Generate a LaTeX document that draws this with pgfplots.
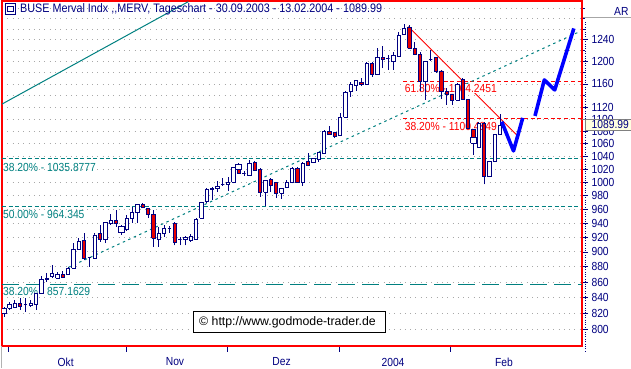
\documentclass[border=0pt]{standalone}
\usepackage{pgfplots}
\pgfplotsset{compat=1.18}
\usepackage{fontspec}
\setmainfont{Liberation Sans}[FakeStretch=0.88]
\newfontfamily\plainfont{Liberation Sans}
\definecolor{navy}{RGB}{0,0,128}
\definecolor{tealc}{RGB}{0,128,128}
\definecolor{framered}{RGB}{255,0,0}
\definecolor{candlered}{RGB}{230,0,0}
\definecolor{gridgray}{RGB}{168,168,168}
\definecolor{boxyellow}{RGB}{255,255,225}
\newcommand\lab{\fontsize{11.7}{13}\selectfont}
\newcommand\ttl{\fontsize{12.27}{14}\selectfont}
\newcommand\cpy{\plainfont\fontsize{12.3}{14}\selectfont}

\begin{document}
\begin{tikzpicture}[x=1pt,y=1pt]
\begin{axis}[
  at={(2pt,22pt)}, anchor=south west,
  width=580pt, height=345pt, scale only axis,
  xmin=-0.375, xmax=108.375,
  ymode=log, ymin=780.9, ymax=1315,
  axis line style={draw=framered, line width=1.6pt},
  xtick={0.9,23.0,41.9,62.8,83.7}, xticklabels={},
  xtick pos=lower, xticklabel pos=lower,
  extra x ticks={11.55,32.06,52.05,72.94,93.75},
  extra x tick labels={Okt,Nov,Dez,2004,Feb},
  extra x tick style={major tick length=0pt, grid=none, xticklabel style={yshift=-8.4pt}},
  ytick={800,820,840,860,880,900,920,940,960,980,1000,1020,1040,1060,1080,1100,1120,1160,1200,1240},
  yticklabels={800,820,840,860,880,900,920,940,960,980,1000,1020,1040,1060,1080,1100,1120,1160,1200,1240},
  minor ytick={1140,1180,1220,1260,1280,1300},
  ytick pos=right, yticklabel pos=right,
  tick align=outside,
  major tick length=6pt, minor tick length=3pt,
  tick style={navy, line width=0.8pt},
  ymajorgrids=true, yminorgrids=true,
  major grid style={gridgray, line width=0.9pt, dash pattern=on 0.9pt off 4.4pt},
  minor grid style={gridgray, line width=0.9pt, dash pattern=on 0.9pt off 4.4pt},
  tick label style={font=\lab, text=navy},
  yticklabel style={anchor=west},
  unbounded coords=jump,
]
% Fibonacci levels
\addplot[tealc, line width=1pt, dash pattern=on 4pt off 2.5pt] coordinates {(-0.375,1035.8777) (108.375,1035.8777)};
\addplot[tealc, line width=1pt, dash pattern=on 4pt off 2.5pt] coordinates {(-0.375,964.345) (108.375,964.345)};
\addplot[tealc, line width=1.3pt, dash pattern=on 17pt off 7pt] coordinates {(-0.375,857.1629) (108.375,857.1629)};
\addplot[red, line width=1pt, dash pattern=on 4pt off 2.7pt] coordinates {(74.87,1164.2451) (108.375,1164.2451)};
\addplot[red, line width=1pt, dash pattern=on 4pt off 2.7pt] coordinates {(74.87,1100.4849) (108.375,1100.4849)};
% trend lines
\addplot[tealc, line width=1pt] coordinates {(-0.431,1125.0) (34.56,1313.6)};
\addplot[tealc, line width=1pt, dash pattern=on 2.5pt off 3.5pt] coordinates {(12.06,879.2) (107.68,1254.3)};
\addplot[red, line width=0.8pt] coordinates {(75.81,1264.9) (96.13,1074.1)};
% level labels
\node[anchor=north west, inner sep=0pt, text=tealc, font=\lab, yshift=-4.4pt] at (axis cs:-0.19,1035.8777) {38.20\% - 1035.8777};
\node[anchor=north west, inner sep=0pt, text=tealc, font=\lab, yshift=-3.7pt] at (axis cs:-0.19,964.345) {50.00\% - 964.345};
\node[anchor=north west, inner sep=0pt, text=tealc, font=\lab, yshift=-3pt] at (axis cs:-0.19,857.1629) {38.20\% - 857.1629};
\node[anchor=north west, inner sep=0.6pt, fill=white, text=red, font=\lab, yshift=-2.1pt] at (axis cs:75.0,1164.2451) {61.80\% - 1164.2451};
\node[anchor=north west, inner sep=0.6pt, fill=white, text=red, font=\lab, yshift=-3.2pt] at (axis cs:75.0,1100.4849) {38.20\% - 1100.4849};
% wicks: (day, low) (day, high)
\addplot[navy, line width=0.9pt] coordinates {
(0,816.2)(0,828.3)(0,nan) (1,824.5)(1,835.0)(1,nan) (2,826.6)(2,837.1)(2,nan) (3,824.5)(3,840.0)(3,nan)
(4,822.4)(4,839.6)(4,nan) (5,827.9)(5,837.1)(5,nan) (6,824.5)(6,846.0)(6,nan) (7,844.7)(7,868.0)(7,nan)
(8,860.6)(8,872.4)(8,nan) (9,865.0)(9,882.5)(9,nan) (10,865.0)(10,873.7)(10,nan) (11,865.0)(11,875.0)(11,nan)
(12,869.3)(12,880.3)(12,nan) (13,878.2)(13,912.0)(13,nan) (14,902.8)(14,919.3)(14,nan) (15,889.2)(15,926.2)(15,nan)
(16,880.3)(16,893.7)(16,nan) (17,891.5)(17,926.2)(17,nan) (18,914.2)(18,937.5)(18,nan) (19,912.0)(19,942.2)(19,nan)
(20,937.5)(20,953.2)(20,nan) (21,935.1)(21,959.0)(21,nan) (22,923.4)(22,937.5)(22,nan) (23,929.4)(23,951.8)(23,nan)
(24,940.0)(24,963.8)(24,nan) (25,940.0)(25,967.3)(25,nan) (26,961.5)(26,968.8)(26,nan) (27,947.0)(27,961.5)(27,nan)
(28,907.3)(28,959.0)(28,nan) (29,907.3)(29,935.1)(29,nan) (30,921.1)(30,937.5)(30,nan) (31,926.6)(31,936.1)(31,nan)
(32,909.1)(32,942.2)(32,nan) (33,909.1)(33,921.1)(33,nan) (34,909.1)(34,922.1)(34,nan) (35,914.2)(35,924.4)(35,nan)
(36,916.5)(36,947.4)(36,nan) (37,947.0)(37,970.7)(37,nan) (38,969.7)(38,991.4)(38,nan) (39,973.6)(39,992.4)(39,nan)
(40,985.9)(40,1001.9)(40,nan) (41,994.4)(41,1006.0)(41,nan) (42,986.9)(42,1008.5)(42,nan) (43,998.4)(43,1023.8)(43,nan)
(44,1013.6)(44,1029.5)(44,nan) (45,1009.9)(45,1017.1)(45,nan) (46,1009.9)(46,1034.2)(46,nan) (47,1017.6)(47,1033.1)(47,nan)
(48,978.5)(48,1021.3)(48,nan) (49,965.4)(49,1003.4)(49,nan) (50,985.9)(50,1006.0)(50,nan) (51,976.1)(51,1000.9)(51,nan)
(52,975.1)(52,991.0)(52,nan) (53,991.0)(53,1003.4)(53,nan) (54,998.4)(54,1023.8)(54,nan) (55,999.4)(55,1022.9)(55,nan)
(56,994.8)(56,1030.6)(56,nan) (57,1025.4)(57,1045.7)(57,nan) (58,1029.1)(58,1037.8)(58,nan) (59,1031.6)(59,1047.3)(59,nan)
(60,1043.7)(60,1082.2)(60,nan) (61,1074.1)(61,1088.8)(61,nan) (62,1068.7)(62,1079.4)(62,nan) (63,1072.9)(63,1109.8)(63,nan)
(64,1103.1)(64,1147.9)(64,nan) (65,1138.0)(65,1164.1)(65,nan) (66,1147.9)(66,1166.6)(66,nan) (67,1157.1)(67,1170.1)(67,nan)
(68,1158.4)(68,1199.8)(68,nan) (69,1172.9)(69,1199.8)(69,nan) (70,1175.9)(70,1224.4)(70,nan) (71,1187.9)(71,1228.6)(71,nan)
(72,1184.8)(72,1212.0)(72,nan) (73,1184.8)(73,1218.1)(73,nan) (74,1208.9)(74,1255.4)(74,nan) (75,1249.2)(75,1270.1)(75,nan)
(76,1224.0)(76,1268.2)(76,nan) (77,1212.0)(77,1235.5)(77,nan) (78,1147.9)(78,1217.0)(78,nan) (79,1132.3)(79,1201.1)(79,nan)
(80,1201.7)(80,1221.2)(80,nan) (81,1178.9)(81,1208.9)(81,nan) (82,1134.7)(82,1184.8)(82,nan) (83,1123.8)(83,1152.6)(83,nan)
(84,1123.8)(84,1142.6)(84,nan) (85,1132.3)(85,1161.9)(85,nan) (86,1132.3)(86,1170.1)(86,nan) (87,1083.8)(87,1134.7)(87,nan)
(88,1042.1)(88,1082.2)(88,nan) (89,1054.3)(89,1095.8)(89,nan) (90,996.9)(90,1095.8)(90,nan) (91,1008.5)(91,1031.6)(91,nan)
(92,1031.6)(92,1074.1)(92,nan) (93,1074.1)(93,1108.2)
};
% rising bodies (open to close), hollow
\addplot[draw=navy, fill=white, line width=0.9pt] coordinates {
(-0.52,820.4)(0.52,820.4)(0.52,826.6)(-0.52,826.6)(-0.52,820.4)(0,nan)
(0.69,826.6)(1.31,826.6)(1.31,830.8)(0.69,830.8)(0.69,826.6)(1,nan)
(1.69,827.9)(2.31,827.9)(2.31,832.9)(1.69,832.9)(1.69,827.9)(2,nan)
(3.69,830.8)(4.31,830.8)(4.31,830.8)(3.69,830.8)(3.69,830.8)(4,nan)
(4.69,829.9)(5.31,829.9)(5.31,832.1)(4.69,832.1)(4.69,829.9)(5,nan)
(5.69,830.8)(6.31,830.8)(6.31,845.6)(5.69,845.6)(5.69,830.8)(6,nan)
(6.69,844.7)(7.31,844.7)(7.31,862.8)(6.69,862.8)(6.69,844.7)(7,nan)
(7.69,862.8)(8.31,862.8)(8.31,865.0)(7.69,865.0)(7.69,862.8)(8,nan)
(8.69,867.1)(9.31,867.1)(9.31,870.6)(8.69,870.6)(8.69,867.1)(9,nan)
(9.69,865.0)(10.31,865.0)(10.31,869.3)(9.69,869.3)(9.69,865.0)(10,nan)
(11.69,869.3)(12.31,869.3)(12.31,878.2)(11.69,878.2)(11.69,869.3)(12,nan)
(12.69,878.2)(13.31,878.2)(13.31,903.8)(12.69,903.8)(12.69,878.2)(13,nan)
(13.69,903.8)(14.31,903.8)(14.31,914.2)(13.69,914.2)(13.69,903.8)(14,nan)
(15.69,891.9)(16.31,891.9)(16.31,891.9)(15.69,891.9)(15.69,891.9)(16,nan)
(16.69,891.5)(17.31,891.5)(17.31,923.4)(16.69,923.4)(16.69,891.5)(17,nan)
(18.69,916.5)(19.31,916.5)(19.31,940.8)(18.69,940.8)(18.69,916.5)(19,nan)
(19.69,940.0)(20.31,940.0)(20.31,943.2)(19.69,943.2)(19.69,940.0)(20,nan)
(21.48,926.6)(22.52,926.6)(22.52,935.1)(21.48,935.1)(21.48,926.6)(22,nan)
(22.69,930.4)(23.31,930.4)(23.31,947.0)(22.69,947.0)(22.69,930.4)(23,nan)
(23.69,947.0)(24.31,947.0)(24.31,955.1)(23.69,955.1)(23.69,947.0)(24,nan)
(24.69,955.1)(25.31,955.1)(25.31,966.3)(24.69,966.3)(24.69,955.1)(25,nan)
(28.69,916.5)(29.31,916.5)(29.31,925.8)(28.69,925.8)(28.69,916.5)(29,nan)
(29.69,924.8)(30.31,924.8)(30.31,932.8)(29.69,932.8)(29.69,924.8)(30,nan)
(30.69,933.2)(31.31,933.2)(31.31,933.2)(30.69,933.2)(30.69,933.2)(31,nan)
(32.69,916.5)(33.31,916.5)(33.31,916.5)(32.69,916.5)(32.69,916.5)(33,nan)
(33.69,916.5)(34.31,916.5)(34.31,919.7)(33.69,919.7)(33.69,916.5)(34,nan)
(34.69,915.1)(35.31,915.1)(35.31,921.1)(34.69,921.1)(34.69,915.1)(35,nan)
(35.69,916.5)(36.31,916.5)(36.31,945.6)(35.69,945.6)(35.69,916.5)(36,nan)
(36.69,947.0)(37.31,947.0)(37.31,970.3)(36.69,970.3)(36.69,947.0)(37,nan)
(37.69,971.2)(38.31,971.2)(38.31,988.4)(37.69,988.4)(37.69,971.2)(38,nan)
(38.69,988.4)(39.31,988.4)(39.31,991.0)(38.69,991.0)(38.69,988.4)(39,nan)
(39.69,989.9)(40.31,989.9)(40.31,993.4)(39.69,993.4)(39.69,989.9)(40,nan)
(40.69,995.9)(41.31,995.9)(41.31,995.9)(40.69,995.9)(40.69,995.9)(41,nan)
(41.69,995.9)(42.31,995.9)(42.31,1000.0)(41.69,1000.0)(41.69,995.9)(42,nan)
(42.69,1000.0)(43.31,1000.0)(43.31,1022.9)(42.69,1022.9)(42.69,1000.0)(43,nan)
(44.69,1013.6)(45.31,1013.6)(45.31,1013.6)(44.69,1013.6)(44.69,1013.6)(45,nan)
(45.69,1009.9)(46.31,1009.9)(46.31,1028.0)(45.69,1028.0)(45.69,1009.9)(46,nan)
(48.69,985.0)(49.31,985.0)(49.31,1001.9)(48.69,1001.9)(48.69,985.0)(49,nan)
(51.69,983.4)(52.31,983.4)(52.31,991.0)(51.69,991.0)(51.69,983.4)(52,nan)
(52.69,991.9)(53.31,991.9)(53.31,1000.0)(52.69,1000.0)(52.69,991.9)(53,nan)
(53.69,999.4)(54.31,999.4)(54.31,1020.3)(53.69,1020.3)(53.69,999.4)(54,nan)
(55.69,1000.0)(56.31,1000.0)(56.31,1029.1)(55.69,1029.1)(55.69,1000.0)(56,nan)
(57.69,1030.0)(58.31,1030.0)(58.31,1036.9)(57.69,1036.9)(57.69,1030.0)(58,nan)
(58.69,1035.3)(59.31,1035.3)(59.31,1045.7)(58.69,1045.7)(58.69,1035.3)(59,nan)
(59.69,1044.8)(60.31,1044.8)(60.31,1079.4)(59.69,1079.4)(59.69,1044.8)(60,nan)
(62.69,1072.9)(63.31,1072.9)(63.31,1103.1)(62.69,1103.1)(62.69,1072.9)(63,nan)
(63.69,1103.1)(64.31,1103.1)(64.31,1145.6)(63.69,1145.6)(63.69,1103.1)(64,nan)
(64.69,1146.6)(65.31,1146.6)(65.31,1159.6)(64.69,1159.6)(64.69,1146.6)(65,nan)
(65.69,1157.1)(66.31,1157.1)(66.31,1166.6)(65.69,1166.6)(65.69,1157.1)(66,nan)
(67.69,1158.4)(68.31,1158.4)(68.31,1196.9)(67.69,1196.9)(67.69,1158.4)(68,nan)
(69.69,1175.9)(70.31,1175.9)(70.31,1207.8)(69.69,1207.8)(69.69,1175.9)(70,nan)
(71.69,1206.0)(72.31,1206.0)(72.31,1206.0)(71.69,1206.0)(71.69,1206.0)(72,nan)
(72.69,1199.8)(73.31,1199.8)(73.31,1210.7)(72.69,1210.7)(72.69,1199.8)(73,nan)
(73.69,1208.9)(74.31,1208.9)(74.31,1247.9)(73.69,1247.9)(73.69,1208.9)(74,nan)
(74.69,1250.3)(75.31,1250.3)(75.31,1261.9)(74.69,1261.9)(74.69,1250.3)(75,nan)
(78.69,1164.1)(79.31,1164.1)(79.31,1199.8)(78.69,1199.8)(78.69,1164.1)(79,nan)
(79.69,1204.2)(80.31,1204.2)(80.31,1204.2)(79.69,1204.2)(79.69,1204.2)(80,nan)
(84.69,1132.3)(85.31,1132.3)(85.31,1159.6)(84.69,1159.6)(84.69,1132.3)(85,nan)
(88.69,1054.3)(89.31,1054.3)(89.31,1093.2)(88.69,1093.2)(88.69,1054.3)(89,nan)
(90.69,1008.5)(91.31,1008.5)(91.31,1031.6)(90.69,1031.6)(90.69,1008.5)(91,nan)
(91.69,1031.6)(92.31,1031.6)(92.31,1074.1)(91.69,1074.1)(91.69,1031.6)(92,nan)
(92.69,1074.1)(93.31,1074.1)(93.31,1089.99)(92.69,1089.99)(92.69,1074.1)
};
% falling bodies (close to open), red
\addplot[draw=navy, fill=candlered, line width=0.9pt] coordinates {
(2.69,828.7)(3.31,828.7)(3.31,832.1)(2.69,832.1)(2.69,828.7)(3,nan)
(10.69,865.8)(11.31,865.8)(11.31,869.3)(10.69,869.3)(10.69,865.8)(11,nan)
(14.69,891.5)(15.31,891.5)(15.31,915.1)(14.69,915.1)(14.69,891.5)(15,nan)
(17.69,916.5)(18.31,916.5)(18.31,925.8)(17.69,925.8)(17.69,916.5)(18,nan)
(20.69,939.0)(21.31,939.0)(21.31,943.6)(20.69,943.6)(20.69,939.0)(21,nan)
(25.69,962.9)(26.31,962.9)(26.31,966.3)(25.69,966.3)(25.69,962.9)(26,nan)
(26.69,951.8)(27.31,951.8)(27.31,961.5)(26.69,961.5)(26.69,951.8)(27,nan)
(27.69,918.9)(28.31,918.9)(28.31,951.8)(27.69,951.8)(27.69,918.9)(28,nan)
(31.69,913.4)(32.31,913.4)(32.31,939.0)(31.69,939.0)(31.69,913.4)(32,nan)
(43.69,1013.6)(44.31,1013.6)(44.31,1018.7)(43.69,1018.7)(43.69,1013.6)(44,nan)
(46.69,1017.6)(47.31,1017.6)(47.31,1030.6)(46.69,1030.6)(46.69,1017.6)(47,nan)
(47.69,985.0)(48.31,985.0)(48.31,1018.7)(47.69,1018.7)(47.69,985.0)(48,nan)
(49.69,994.8)(50.31,994.8)(50.31,1003.4)(49.69,1003.4)(49.69,994.8)(50,nan)
(50.69,983.4)(51.31,983.4)(51.31,999.4)(50.69,999.4)(50.69,983.4)(51,nan)
(54.69,999.4)(55.31,999.4)(55.31,1020.3)(54.69,1020.3)(54.69,999.4)(55,nan)
(56.69,1025.4)(57.31,1025.4)(57.31,1031.6)(56.69,1031.6)(56.69,1025.4)(57,nan)
(60.69,1074.1)(61.31,1074.1)(61.31,1079.4)(60.69,1079.4)(60.69,1074.1)(61,nan)
(61.69,1071.3)(62.31,1071.3)(62.31,1077.8)(61.69,1077.8)(61.69,1071.3)(62,nan)
(66.69,1158.4)(67.31,1158.4)(67.31,1163.1)(66.69,1163.1)(66.69,1158.4)(67,nan)
(68.69,1175.9)(69.31,1175.9)(69.31,1196.9)(68.69,1196.9)(68.69,1175.9)(69,nan)
(70.69,1204.2)(71.31,1204.2)(71.31,1207.8)(70.69,1207.8)(70.69,1204.2)(71,nan)
(75.69,1224.0)(76.31,1224.0)(76.31,1263.4)(75.69,1263.4)(75.69,1224.0)(76,nan)
(76.69,1213.3)(77.31,1213.3)(77.31,1224.4)(76.69,1224.4)(76.69,1213.3)(77,nan)
(77.69,1164.1)(78.31,1164.1)(78.31,1213.3)(77.69,1213.3)(77.69,1164.1)(78,nan)
(80.69,1181.7)(81.31,1181.7)(81.31,1207.8)(80.69,1207.8)(80.69,1181.7)(81,nan)
(81.69,1146.6)(82.31,1146.6)(82.31,1183.0)(81.69,1183.0)(81.69,1146.6)(82,nan)
(82.69,1142.6)(83.31,1142.6)(83.31,1146.6)(82.69,1146.6)(82.69,1142.6)(83,nan)
(83.69,1132.3)(84.31,1132.3)(84.31,1142.6)(83.69,1142.6)(83.69,1132.3)(84,nan)
(85.69,1133.5)(86.31,1133.5)(86.31,1167.1)(85.69,1167.1)(85.69,1133.5)(86,nan)
(86.69,1083.8)(87.31,1083.8)(87.31,1133.5)(86.69,1133.5)(86.69,1083.8)(87,nan)
(87.69,1069.7)(88.31,1069.7)(88.31,1082.2)(87.69,1082.2)(87.69,1069.7)(88,nan)
(89.69,1008.5)(90.31,1008.5)(90.31,1093.2)(89.69,1093.2)(89.69,1008.5)
};
% wide hollow squares on two days
\addplot[draw=navy, fill=white, line width=0.9pt] coordinates {
(43.48,1018.7)(44.52,1018.7)(44.52,1027.5)(43.48,1027.5)(43.48,1018.7)(44,nan)
(87.48,1060.5)(88.52,1060.5)(88.52,1069.7)(87.48,1069.7)(87.48,1060.5)
};
% projected path
\addplot[blue, line width=3.6pt, line join=round] coordinates {(93.32,1095.8) (95.53,1048.4) (97.26,1102.0)};
\addplot[blue, line width=3.6pt, line join=round] coordinates {(99.56,1105.3) (101.31,1167.1) (103.26,1149.6) (106.84,1261.5)};
\end{axis}
% title
\draw[navy, line width=0.8pt] (5,354) rectangle (15.5,364.5);
\draw[navy, line width=0.8pt] (7.5,356.5) rectangle (13,362);
\node[anchor=base west, inner sep=0pt, text=navy, font=\ttl] at (20,355.3) {BUSE Merval Indx {,}{,}MERV, Tageschart - 30.09.2003 - 13.02.2004 - 1089.99};
% right panel
\node[anchor=base west, inner sep=0pt, text=navy, font=\lab] at (614,353) {AR};
\draw[gray!70, line width=0.8pt] (583,350.6) -- (631,350.6);
\draw[navy, line width=0.8pt, dash pattern=on 0.8pt off 1.6pt] (585.5,346) -- (585.5,15);
\draw[gray, line width=0.8pt, fill=boxyellow] (585,237.7) rectangle (631,249);
\draw[gray, line width=0.8pt] (582,249) -- (585,249);
\node[anchor=base west, inner sep=0pt, text=navy, font=\lab] at (591.5,239.2) {1089.99};
% time axis panel edge
\draw[gray!60, line width=0.8pt] (1,0) -- (1,22);
% copyright
\draw[black, line width=1pt, fill=white] (193,35.3) rectangle (385.5,57);
\node[anchor=base west, inner sep=0pt, text=black, font=\cpy] at (199,43) {© http://www.godmode-trader.de};
\pgfresetboundingbox
\useasboundingbox (0,0) rectangle (631,368);
\end{tikzpicture}
\end{document}
